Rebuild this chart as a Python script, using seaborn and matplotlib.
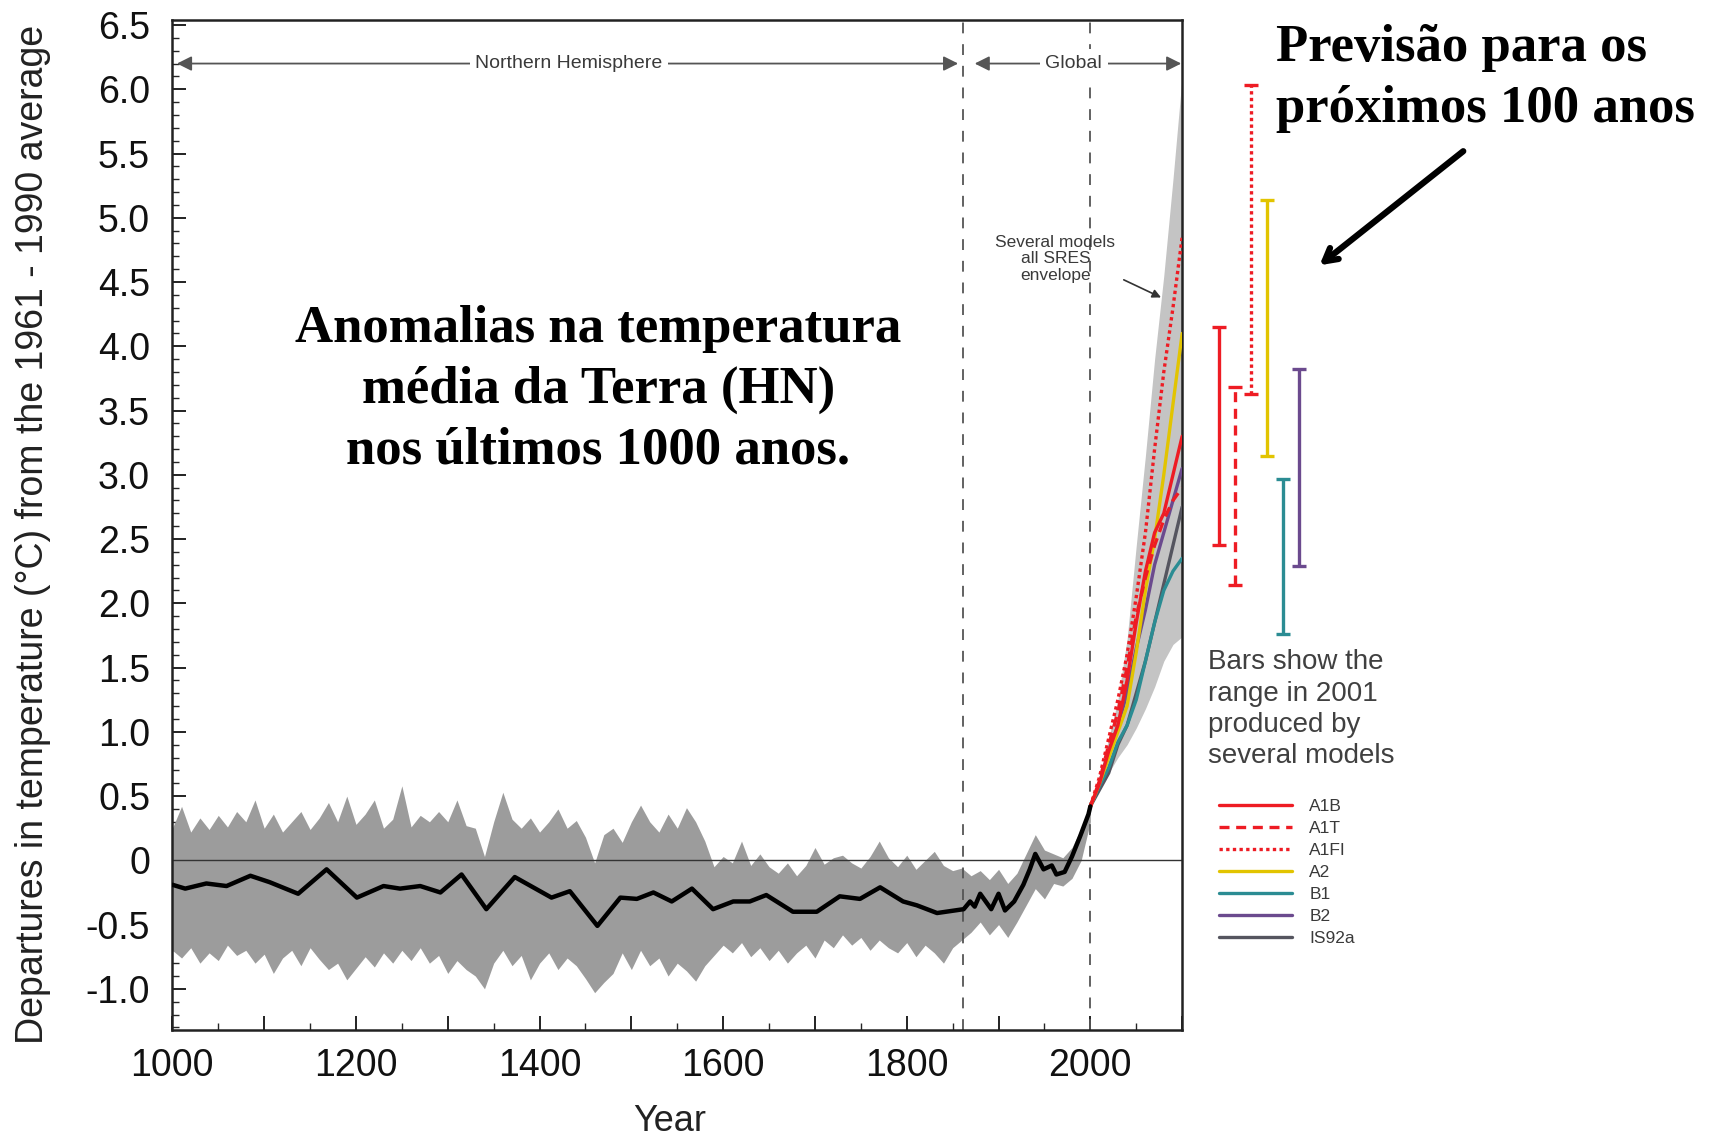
import matplotlib
matplotlib.use("Agg")
import matplotlib.pyplot as plt
import matplotlib.ticker as tkr
import seaborn as sns

sns.set_style("ticks")
plt.rcParams['font.family'] = ['Liberation Sans', 'DejaVu Sans']
plt.rcParams['text.color'] = 'black'

# ---- Northern Hemisphere reconstruction band (every 10 years)
band_years = list(range(1000, 2001, 10))
band_upper = [0.25, 0.42, 0.22, 0.33, 0.24, 0.35, 0.26, 0.38, 0.30, 0.47,
              0.25, 0.36, 0.22, 0.30, 0.38, 0.24, 0.33, 0.45, 0.30, 0.50,
              0.28, 0.36, 0.47, 0.25, 0.32, 0.58, 0.26, 0.35, 0.30, 0.38,
              0.30, 0.47, 0.27, 0.25, 0.03, 0.30, 0.53, 0.32, 0.25, 0.33,
              0.22, 0.30, 0.40, 0.25, 0.31, 0.18, -0.02, 0.20, 0.25, 0.14,
              0.30, 0.43, 0.30, 0.22, 0.36, 0.25, 0.41, 0.30, 0.15, -0.05,
              0.03, -0.02, 0.15, -0.04, 0.05, -0.05, -0.10, -0.02, -0.12, -0.04,
              0.10, -0.03, 0.02, 0.04, -0.02, -0.06, 0.03, 0.15, 0.02, -0.05,
              0.04, -0.07, 0.00, 0.07, -0.04, -0.08, -0.06, -0.12, -0.08, -0.15,
              -0.07, -0.18, -0.10, 0.05, 0.20, 0.08, 0.05, 0.02, 0.10, 0.25,
              0.45]
band_lower = [-0.70, -0.76, -0.68, -0.80, -0.72, -0.78, -0.66, -0.74, -0.70, -0.80,
              -0.73, -0.88, -0.76, -0.70, -0.82, -0.68, -0.77, -0.85, -0.80, -0.93,
              -0.84, -0.75, -0.83, -0.72, -0.80, -0.70, -0.78, -0.68, -0.80, -0.74,
              -0.88, -0.78, -0.85, -0.90, -1.00, -0.80, -0.70, -0.82, -0.74, -0.93,
              -0.80, -0.72, -0.85, -0.76, -0.82, -0.92, -1.03, -0.95, -0.88, -0.72,
              -0.85, -0.70, -0.82, -0.76, -0.90, -0.80, -0.86, -0.94, -0.82, -0.74,
              -0.66, -0.72, -0.64, -0.75, -0.68, -0.78, -0.70, -0.80, -0.72, -0.66,
              -0.76, -0.62, -0.68, -0.58, -0.66, -0.60, -0.70, -0.62, -0.68, -0.72,
              -0.64, -0.75, -0.66, -0.72, -0.80, -0.68, -0.62, -0.56, -0.48, -0.58,
              -0.50, -0.60, -0.48, -0.35, -0.22, -0.30, -0.18, -0.20, -0.14, 0.00,
              0.30]

# ---- smoothed / observed black curve
smooth_years = [1000, 1014, 1037, 1059, 1085, 1106, 1137, 1168, 1201, 1230,
                1248, 1270, 1292, 1315, 1342, 1373, 1413, 1433, 1463, 1488,
                1506, 1524, 1544, 1566, 1589, 1611, 1629, 1647, 1676, 1702,
                1727, 1749, 1771, 1796, 1811, 1833, 1862, 1869, 1874, 1880,
                1892, 1900, 1907, 1917, 1927, 1934, 1940, 1949, 1958, 1963,
                1972, 1980, 1989, 1998, 2000]
smooth_temp = [-0.19, -0.22, -0.18, -0.20, -0.12, -0.17, -0.26, -0.07, -0.29, -0.20,
               -0.22, -0.20, -0.25, -0.11, -0.38, -0.13, -0.29, -0.24, -0.51, -0.29,
               -0.30, -0.25, -0.32, -0.22, -0.38, -0.32, -0.32, -0.27, -0.40, -0.40,
               -0.28, -0.30, -0.21, -0.32, -0.35, -0.41, -0.38, -0.32, -0.36, -0.26,
               -0.38, -0.26, -0.39, -0.32, -0.19, -0.07, 0.05, -0.07, -0.04, -0.11,
               -0.09, 0.03, 0.19, 0.36, 0.42]

# ---- projections 2000-2100
proj_years = [2000, 2010, 2020, 2030, 2040, 2050, 2060, 2070, 2080, 2090, 2100]
env_upper = [0.45, 0.65, 0.95, 1.25, 1.72, 2.45, 3.15, 3.90, 4.55, 5.30, 6.10]
env_lower = [0.42, 0.55, 0.68, 0.80, 0.90, 1.03, 1.18, 1.35, 1.55, 1.68, 1.74]
a1b = [0.42, 0.60, 0.85, 1.05, 1.40, 1.85, 2.25, 2.55, 2.70, 3.00, 3.30]
a1t = [0.42, 0.62, 0.90, 1.15, 1.50, 1.90, 2.20, 2.45, 2.65, 2.80, 2.90]
a1fi = [0.42, 0.65, 0.95, 1.25, 1.60, 2.05, 2.55, 3.20, 3.80, 4.30, 4.85]
a2 = [0.42, 0.60, 0.80, 1.00, 1.20, 1.62, 2.10, 2.50, 3.00, 3.55, 4.10]
b1 = [0.42, 0.58, 0.72, 0.92, 1.05, 1.25, 1.55, 1.85, 2.10, 2.25, 2.35]
b2 = [0.42, 0.60, 0.85, 1.05, 1.30, 1.65, 1.95, 2.30, 2.55, 2.80, 3.05]
is92a = [0.42, 0.55, 0.68, 0.90, 1.05, 1.30, 1.55, 1.85, 2.15, 2.45, 2.75]

# ---- range bars
bar_names = ['A1B', 'A1T', 'A1FI', 'A2', 'B1', 'B2']
bar_low = [2.45, 2.14, 3.63, 3.15, 1.76, 2.29]
bar_high = [4.15, 3.68, 6.03, 5.14, 2.97, 3.82]

styles = {
    'A1B': ('#ee1c24', '-'),
    'A1T': ('#ee1c24', (0, (3, 2))),
    'A1FI': ('#ee1c24', (0, (1, 1))),
    'A2': ('#e2c400', '-'),
    'B1': ('#2b8c93', '-'),
    'B2': ('#6b4a8e', '-'),
    'IS92a': ('#55555f', '-'),
}
scenario_data = {'A1B': a1b, 'A1T': a1t, 'A1FI': a1fi, 'A2': a2,
                 'B1': b1, 'B2': b2, 'IS92a': is92a}

fig = plt.figure(figsize=(17.22, 11.41), dpi=100)
ax = fig.add_axes([0.1001, 0.0973, 0.5864, 0.8853])

ax.fill_between(band_years, band_lower, band_upper, color='#9c9c9c', lw=0, zorder=1)
ax.fill_between(proj_years, env_lower, env_upper, color='#c4c4c4', lw=0, zorder=1)
ax.axhline(0, color='#333333', lw=1.0, zorder=2)
for yr in [1861, 2000]:
    ax.axvline(yr, color='#555555', lw=1.3, ls=(0, (6, 6)), zorder=2)

for name in ['IS92a', 'B1', 'B2', 'A2', 'A1T', 'A1B', 'A1FI']:
    c, ls = styles[name]
    sns.lineplot(x=proj_years, y=scenario_data[name], color=c, linestyle=ls,
                 lw=2.4, ax=ax, label=name, zorder=4, legend=False)

sns.lineplot(x=smooth_years, y=smooth_temp, color='black', lw=3.2, ax=ax,
             zorder=5, legend=False)

ax.set_xlim(1000, 2100)
ax.set_ylim(-1.32, 6.54)
ax.xaxis.set_major_locator(tkr.MultipleLocator(100))
ax.xaxis.set_minor_locator(tkr.MultipleLocator(50))
ax.xaxis.set_major_formatter(tkr.FuncFormatter(
    lambda v, p: "%d" % v if (round(v) % 200 == 0 and v <= 2000) else ""))
ax.yaxis.set_major_locator(tkr.MultipleLocator(0.5))
ax.yaxis.set_minor_locator(tkr.MultipleLocator(0.1))
ax.yaxis.set_major_formatter(tkr.FuncFormatter(
    lambda v, p: "0" if abs(v) < 1e-9 else "%.1f" % v))
ax.tick_params(axis='both', which='major', direction='in', length=10, width=1.3,
               labelsize=27, colors='#111111')
ax.tick_params(axis='both', which='minor', direction='in', length=5, width=1.0)
ax.tick_params(axis='y', pad=16)
ax.tick_params(axis='x', pad=13)
for sp in ax.spines.values():
    sp.set_linewidth(1.8)
    sp.set_color('#222222')
ax.set_xlabel("")
ax.set_ylabel("")

# region labels
arrow_kw = dict(arrowstyle='<|-|>', color='#555555', lw=1.3, mutation_scale=22,
                shrinkA=0, shrinkB=0)
ax.annotate('', xy=(1005, 6.2), xytext=(1856, 6.2), arrowprops=arrow_kw, zorder=3)
ax.annotate('', xy=(1874, 6.2), xytext=(2099, 6.2), arrowprops=arrow_kw, zorder=3)
box = dict(facecolor='white', edgecolor='none', pad=4)
ax.text(1432, 6.2, 'Northern Hemisphere', ha='center', va='center', fontsize=14,
        color='#3a3a3a', bbox=box, zorder=6)
ax.text(1982, 6.2, 'Global', ha='center', va='center', fontsize=14,
        color='#3a3a3a', bbox=box, zorder=6)

ax.annotate('Several models\nall SRES\nenvelope', xy=(2077, 4.38), xytext=(1962, 4.68),
            ha='center', va='center', fontsize=12.5, color='#3a3a3a',
            linespacing=1.15,
            arrowprops=dict(arrowstyle='-|>', color='#333333', lw=1.2,
                            relpos=(1.0, 0.15), shrinkA=4, shrinkB=0), zorder=6)

ax.text(1464, 3.66, 'Anomalias na temperatura\nmédia da Terra (HN)\nnos últimos 1000 anos.',
        ha='center', va='center', fontsize=38, fontweight='bold', color='black',
        family='Liberation Serif', linespacing=1.34, zorder=6)

fig.text(0.019, 0.532, 'Departures in temperature (°C) from the 1961 - 1990 average',
         rotation=90, ha='center', va='center', fontsize=27, color='#222222')
fig.text(0.389, 0.017, 'Year', ha='center', va='center', fontsize=26, color='#222222')

# range bars on a side axes sharing the temperature scale
ax2 = fig.add_axes([0.7033, 0.0973, 0.0557, 0.8853], sharey=ax)
ax2.set_xlim(-0.5, len(bar_names) - 0.5)
for i, name in enumerate(bar_names):
    c, ls = styles[name]
    mid = (bar_low[i] + bar_high[i]) / 2
    half = (bar_high[i] - bar_low[i]) / 2
    eb = ax2.errorbar([i], [mid], yerr=[[half], [half]], fmt='none', ecolor=c,
                      elinewidth=2.4, capsize=5, capthick=2.4)
    eb[2][0].set_linestyle(ls)
ax2.axis('off')

fig.text(0.7015, 0.431, 'Bars show the\nrange in 2001\nproduced by\nseveral models',
         ha='left', va='top', fontsize=20, color='#404040', linespacing=1.27)

handles, labels = ax.get_legend_handles_labels()
order = ['A1B', 'A1T', 'A1FI', 'A2', 'B1', 'B2', 'IS92a']
hmap = dict(zip(labels, handles))
leg = fig.legend([hmap[k] for k in order], order, loc='upper left',
                 bbox_to_anchor=(0.708, 0.300), frameon=False, fontsize=12.5,
                 handlelength=4.2, handletextpad=1.0, labelspacing=0.40,
                 borderpad=0, borderaxespad=0)
for t in leg.get_texts():
    t.set_color('#3a3a3a')

fig.text(0.741, 0.979, 'Previsão para os\npróximos 100 anos', ha='left', va='top',
         fontsize=38, fontweight='bold', color='black', family='Liberation Serif',
         linespacing=1.36)
ax.annotate('', xy=(0.765, 0.766), xytext=(0.851, 0.869),
            xycoords='figure fraction', textcoords='figure fraction',
            arrowprops=dict(arrowstyle='->,head_length=0.9,head_width=0.5',
                            lw=4.5, color='black'))

fig.savefig('out.png', dpi=100)
